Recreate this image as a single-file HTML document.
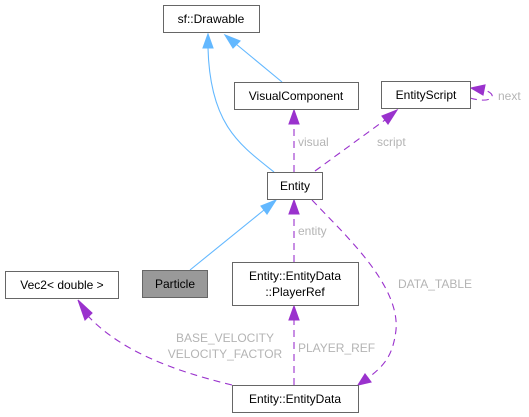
<!DOCTYPE html>
<html><head><meta charset="utf-8"><style>
html,body{margin:0;padding:0;background:#fff}
svg{display:block}
text{font-family:"Liberation Sans",sans-serif;font-size:12px}
.n{fill:#000;text-anchor:middle}
.l{fill:#b4b4b4}
</style></head><body>
<svg width="529" height="417" viewBox="0 0 529 417" xmlns="http://www.w3.org/2000/svg">
<g fill="none" stroke-width="1.1">
<!-- inheritance (blue) -->
<path d="M274,172 C240,145 210,125 208,48" stroke="#63b8ff"/>
<polygon points="203,48 213,48 208,34" fill="#63b8ff" stroke="#63b8ff"/>
<path d="M282,82 L236,44" stroke="#63b8ff"/>
<polygon points="233,48 240,41 225,35" fill="#63b8ff" stroke="#63b8ff"/>
<path d="M190,270 L264,210" stroke="#63b8ff"/>
<polygon points="261,206 267,214 276,200" fill="#63b8ff" stroke="#63b8ff"/>
<!-- dashed purple -->
<g stroke="#9a32cd" stroke-dasharray="7,5">
<path d="M294,172 L294,124"/>
<path d="M315,171 L385,120"/>
<path d="M470,98 C490,104 500,96 485,90"/>
<path d="M294,262 L294,214"/>
<path d="M312,200 C345,235 400,285 396,330 C393,355 385,365 368,378"/>
<path d="M294,385 L294,320"/>
<path d="M232,385 C170,370 120,350 88,316"/>
</g>
<g fill="#9a32cd" stroke="#9a32cd">
<polygon points="289,124 299,124 294,110"/>
<polygon points="382,116 388,124 397,110"/>
<polygon points="485,85 483,95 471,88"/>
<polygon points="289,214 299,214 294,200"/>
<polygon points="365,374 371,382 358,385"/>
<polygon points="289,320 299,320 294,306"/>
<polygon points="85,320 92,313 78,300"/>
</g>
</g>
<!-- nodes -->
<g stroke="#666" stroke-width="1">
<rect x="163.5" y="5.5" width="96" height="27" fill="#fff"/>
<rect x="234.5" y="82.5" width="124" height="27" fill="#fff"/>
<rect x="381.5" y="81.5" width="89" height="27" fill="#fff"/>
<rect x="267.5" y="172.5" width="55" height="27" fill="#fff"/>
<rect x="5.5" y="271.5" width="113" height="27" fill="#fff"/>
<rect x="142.5" y="270.5" width="65" height="27" fill="#999"/>
<rect x="232.5" y="262.5" width="126" height="43" fill="#fff"/>
<rect x="232.5" y="385.5" width="126" height="27" fill="#fff"/>
</g>
<text class="n" x="211" y="23">sf::Drawable</text>
<text class="n" x="296" y="100">VisualComponent</text>
<text class="n" x="426" y="99">EntityScript</text>
<text class="n" x="295" y="190">Entity</text>
<text class="n" x="62" y="289">Vec2&lt; double &gt;</text>
<text class="n" x="175" y="288">Particle</text>
<text class="n" x="295" y="280">Entity::EntityData</text>
<text class="n" x="295" y="296">::PlayerRef</text>
<text class="n" x="295" y="403">Entity::EntityData</text>
<!-- labels -->
<text class="l" x="298" y="146">visual</text>
<text class="l" x="377" y="146">script</text>
<text class="l" x="498" y="100">next</text>
<text class="l" x="298" y="235">entity</text>
<text class="l" x="398" y="288">DATA_TABLE</text>
<text class="l" x="298" y="352">PLAYER_REF</text>
<text class="l" x="225" y="342" text-anchor="middle">BASE_VELOCITY</text>
<text class="l" x="225" y="358" text-anchor="middle">VELOCITY_FACTOR</text>
</svg>
</body></html>
